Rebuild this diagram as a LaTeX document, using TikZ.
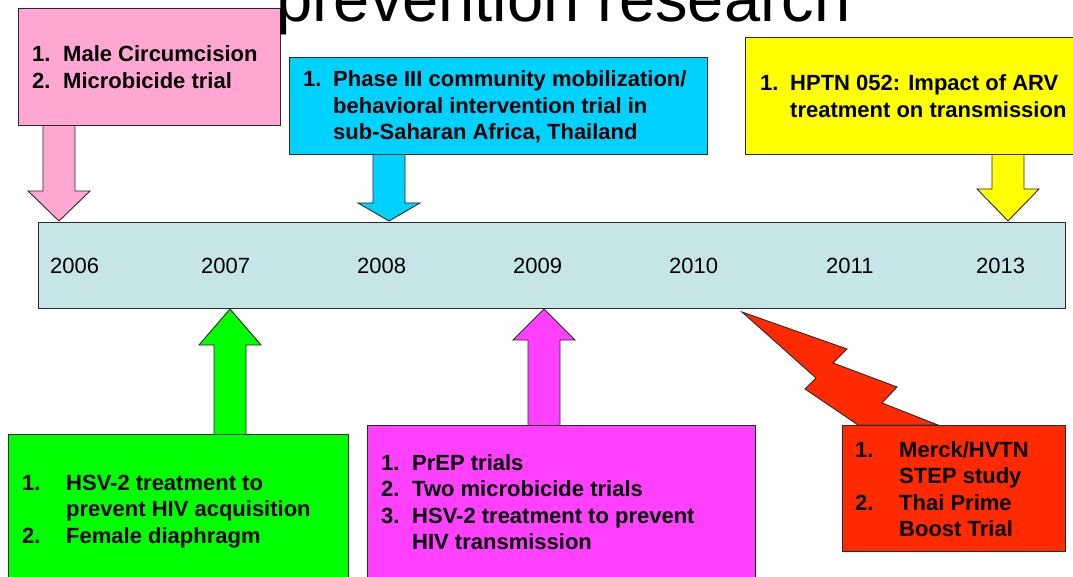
\documentclass[tikz,border=0pt]{standalone}
\usepackage{fontspec}
\setmainfont{Liberation Sans}
\definecolor{pinkfill}{HTML}{FFA6D2}
\definecolor{cyanfill}{HTML}{00D2FF}
\definecolor{yellowfill}{HTML}{FFFF00}
\definecolor{greenfill}{HTML}{00FF00}
\definecolor{magentafill}{HTML}{FF40FF}
\definecolor{redfill}{HTML}{FF2A00}
\definecolor{barfill}{HTML}{C6E5E8}
\definecolor{edge}{HTML}{2A2A2A}

% block arrow: #1 centre x, #2 shaft end y, #3 head base y, #4 tip y, #5 fill colour
\newcommand\blockarrow[5]{%
  \draw[arrowbody, fill=#5] (#1-16,#2) -- (#1-16,#3) -- (#1-31,#3) -- (#1,#4)
    -- (#1+31,#3) -- (#1+16,#3) -- (#1+16,#2) -- cycle;}

\tikzset{
  boxstyle/.style={draw=edge, line width=0.9pt, anchor=north west, inner sep=0pt},
  arrowbody/.style={draw=edge, line width=0.9pt, line join=miter},
  itemtext/.style={anchor=base west, inner sep=0pt, font=\bfseries\fontsize{22}{26.5}\selectfont},
  yeartext/.style={anchor=base west, inner sep=0pt, font=\fontsize{22}{26}\selectfont},
}

\begin{document}
\begin{tikzpicture}[x=1pt, y=-1pt]
\useasboundingbox (0,0) rectangle (1073,577);
\clip (0,0) rectangle (1073,577);

% timeline bar with years
\node[boxstyle, fill=barfill, minimum width=1027pt, minimum height=86pt] (bar) at (38,222) {};
\node[yeartext] (y2006) at (50,274) {2006};
\node[yeartext] (y2007) at (201,274) {2007};
\node[yeartext] (y2008) at (357,274) {2008};
\node[yeartext] (y2009) at (513,274) {2009};
\node[yeartext] (y2010) at (669,274) {2010};
\node[yeartext] (y2011) at (826,274) {2011};
\node[yeartext] (y2013) at (976,274) {2013};

% block arrows onto the timeline
\blockarrow{59}{120}{191}{221}{pinkfill}
\blockarrow{389}{150}{203}{221}{cyanfill}
\blockarrow{1008}{150}{189}{221}{yellowfill}
\blockarrow{230}{438}{345}{309}{greenfill}
\blockarrow{544}{430}{340}{309}{magentafill}

% lightning bolt towards the red box
\draw[arrowbody, fill=redfill] (742,312) -- (847,349) -- (833,363) -- (897,387)
  -- (882,403) -- (938,425) -- (858,425) -- (805,389) -- (816,378) -- cycle;

% boxes above the timeline
\node[boxstyle, fill=pinkfill, minimum width=262pt, minimum height=117pt] (pinkbox) at (18,8) {};
\node[itemtext] (pinktext) at (32,62) {\begin{tabular}[t]{@{}p{31pt}@{}l@{}}
  1.&Male Circumcision\\ 2.&Microbicide trial\end{tabular}};

\node[boxstyle, fill=cyanfill, minimum width=418pt, minimum height=97pt] (cyanbox) at (289,57) {};
\node[itemtext] (cyantext) at (303,87) {\begin{tabular}[t]{@{}p{30pt}@{}l@{}}
  1.&Phase III community mobilization/\\ &behavioral intervention trial in\\
  &sub-Saharan Africa, Thailand\end{tabular}};

\node[boxstyle, fill=yellowfill, minimum width=345pt, minimum height=117pt] (yellowbox) at (745,37) {};
\node[itemtext] (yellowtext) at (760,91) {\begin{tabular}[t]{@{}p{30pt}@{}l@{}}
  1.&HPTN 052: Impact of ARV\\ &treatment on transmission\end{tabular}};

% boxes below the timeline
\node[boxstyle, fill=greenfill, minimum width=340pt, minimum height=170pt] (greenbox) at (8,434) {};
\node[itemtext] (greentext) at (22,490) {\begin{tabular}[t]{@{}p{44pt}@{}l@{}}
  1.&HSV-2 treatment to\\ &prevent HIV acquisition\\ 2.&Female diaphragm\end{tabular}};

\node[boxstyle, fill=magentafill, minimum width=388pt, minimum height=180pt] (magentabox) at (367,425) {};
\node[itemtext] (magentatext) at (381,470) {\begin{tabular}[t]{@{}p{31pt}@{}l@{}}
  1.&PrEP trials\\ 2.&Two microbicide trials\\ 3.&HSV-2 treatment to prevent\\
  &HIV transmission\end{tabular}};

\node[boxstyle, fill=redfill, minimum width=223pt, minimum height=126pt] (redbox) at (842,425) {};
\node[itemtext] (redtext) at (855,457) {\begin{tabular}[t]{@{}p{44pt}@{}l@{}}
  1.&Merck/HVTN\\ &STEP study\\ 2.&Thai Prime\\ &Boost Trial\end{tabular}};

% heading
\node[anchor=base west, inner sep=0pt, font=\fontsize{65}{70}\selectfont] (heading) at (276,22) {prevention research};
\end{tikzpicture}
\end{document}
